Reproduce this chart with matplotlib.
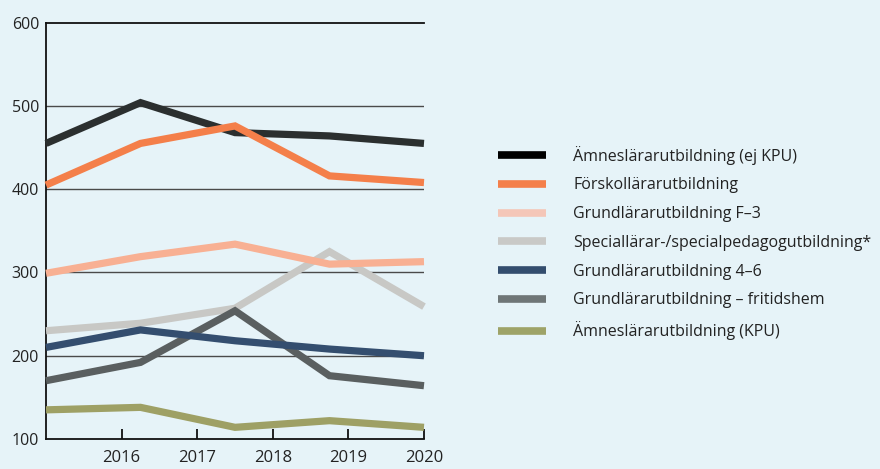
import matplotlib
matplotlib.use("Agg")
import matplotlib.pyplot as plt
from matplotlib.lines import Line2D

plt.rcParams['font.family'] = ['Open Sans', 'DejaVu Sans']

# data points (positions along the year axis as drawn in the reference)
x_points = [2015, 2016.25, 2017.5, 2018.75, 2020]
tick_years = [2016, 2017, 2018, 2019, 2020]
y_ticks = [100, 200, 300, 400, 500, 600]

series_names = [
    "Ämneslärarutbildning (ej KPU)",
    "Förskollärarutbildning",
    "Grundlärarutbildning F–3",
    "Speciallärar-/specialpedagogutbildning*",
    "Grundlärarutbildning 4–6",
    "Grundlärarutbildning – fritidshem",
    "Ämneslärarutbildning (KPU)",
]
amnes_ej_kpu = [455, 504, 468, 464, 455]
forskola = [405, 455, 476, 416, 408]
f3 = [299, 319, 334, 310, 313]
special = [230, 239, 257, 325, 259]
g46 = [210, 231, 218, 208, 200]
fritids = [170, 192, 254, 176, 164]
amnes_kpu = [135, 138, 114, 122, 114]

values = [amnes_ej_kpu, forskola, f3, special, g46, fritids, amnes_kpu]
colors = ["#2b2f2f", "#f47f4a", "#f8b093", "#c8c8c5", "#344e6f", "#5a5f60", "#9ea065"]
legend_colors = ["#000000", "#f47f4a", "#f4c6b8", "#c9c9c7", "#334d6e", "#6f7677", "#9ea368"]
zorders = [7, 8, 6, 3, 5, 4, 5]

bg = "#e6f3f8"
fig = plt.figure(figsize=(8.8, 4.69), dpi=100, facecolor=bg)
ax = fig.add_axes([0.0523, 0.064, 0.4295, 0.8876])
ax.set_facecolor(bg)

for name, vals, c, z in zip(series_names, values, colors, zorders):
    ax.plot(x_points, vals, color=c, lw=5.2, solid_capstyle='butt',
            solid_joinstyle='miter', zorder=z, clip_on=False)

ax.set_xlim(2015, 2020)
ax.set_ylim(100, 600)

for yv in y_ticks[1:-1]:
    ax.axhline(yv, color="#4a4a4a", lw=1.0, zorder=1)
ax.axhline(600, color="#111111", lw=1.3, zorder=1, clip_on=False)

for s in ['right', 'top']:
    ax.spines[s].set_visible(False)
for s in ['left', 'bottom']:
    ax.spines[s].set_color("#111111")
    ax.spines[s].set_linewidth(1.3)

ax.set_yticks(y_ticks)
ax.set_yticklabels([str(v) for v in y_ticks])
ax.set_xticks(tick_years)
ax.set_xticklabels([str(v) for v in tick_years])
ax.tick_params(axis='y', length=0, pad=5, labelsize=11.5, labelcolor="#222222")
ax.tick_params(axis='x', direction='in', length=7, width=1.3, color="#111111",
               pad=8, labelsize=12, labelcolor="#222222")

handles = [Line2D([0], [0], color=c, lw=5.5, solid_capstyle='butt') for c in legend_colors]
fig.legend(handles, series_names, loc='center left', bbox_to_anchor=(0.5495, 0.482),
           frameon=False, fontsize=11.5, handlelength=3.0, handletextpad=1.7,
           labelspacing=0.8, labelcolor="#222222")

fig.savefig("out.png", dpi=100, facecolor=bg)
